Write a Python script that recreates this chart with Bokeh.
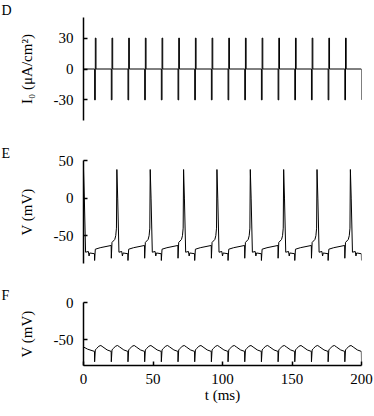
from bokeh.plotting import figure
from bokeh.models import Range1d, FixedTicker, Title
from bokeh.layouts import column
from bokeh.embed import file_html
from bokeh.resources import INLINE

# ---------------- data ----------------
t_end = 200
# panel D: biphasic stimulus pulses (negative phase first, then positive)
pulse_onsets = [8, 20, 32, 44, 56, 68, 80, 92, 104, 116, 128, 140, 152, 164, 176, 188, 200]
pulse_amp = 30
pulse_phase = 0.5

# panel E: firing every second pulse
spike_times = [0, 24, 48, 72, 96, 120, 144, 168, 192]
e_cycle_dt = [0, 0.6, 1.5, 3.5, 4.0, 4.5, 7.9, 8.0, 8.5, 12, 19.9, 20.0, 20.5, 22.5, 23.2, 23.7]
e_cycle_v = [38, 0, -72, -71, -77, -73, -74, -83, -68, -66, -63, -80, -59, -55, -50, -40]

# panel F: subthreshold response to every pulse
f_start_t = [0, 3]
f_start_v = [-60, -63]
f_cycle_dt = [-0.1, 0, 0.5, 1.5, 3, 4.5, 6, 9]
f_cycle_v = [-66, -80, -64, -62, -59, -58, -60, -64]

d_ticks = [-30, 0, 30]
e_ticks = [-50, 0, 50]
f_ticks = [-50, 0]
x_ticks = [0, 50, 100, 150, 200]

# ---------------- traces ----------------
d_t, d_v = [0], [0]
for tp in pulse_onsets:
    if tp < t_end:
        d_t += [tp, tp, tp + pulse_phase, tp + pulse_phase, tp + 2 * pulse_phase, tp + 2 * pulse_phase]
        d_v += [0, -pulse_amp, -pulse_amp, pulse_amp, pulse_amp, 0]
    else:
        d_t += [tp, tp]
        d_v += [0, -pulse_amp]

e_t, e_v = [], []
for ts in spike_times:
    for dt, v in zip(e_cycle_dt, e_cycle_v):
        if ts + dt <= t_end:
            e_t.append(ts + dt)
            e_v.append(v)

f_t, f_v = list(f_start_t), list(f_start_v)
for tp in pulse_onsets:
    for dt, v in zip(f_cycle_dt, f_cycle_v):
        if tp + dt <= t_end:
            f_t.append(tp + dt)
            f_v.append(v)

FONT = "Liberation Serif"


def make_fig(height, top, bottom, yr, ticks, ylabel, letter, show_x=False):
    p = figure(width=374, height=height, x_range=Range1d(0, t_end), y_range=Range1d(*yr),
               output_backend="svg", toolbar_location=None,
               min_border_left=83, min_border_right=13,
               min_border_top=top, min_border_bottom=bottom)
    p.outline_line_color = None
    p.grid.visible = False
    p.background_fill_color = "white"
    p.border_fill_color = "white"
    for ax in (p.yaxis[0], p.xaxis[0]):
        ax.axis_line_color = "black"
        ax.axis_line_width = 1.5
        ax.major_tick_line_color = "black"
        ax.major_tick_line_width = 1.5
        ax.major_tick_in = 4
        ax.major_tick_out = 0
        ax.minor_tick_line_color = None
        ax.major_label_text_font = FONT
        ax.major_label_text_font_size = "15px"
        ax.major_label_text_color = "black"
        ax.axis_label_text_font = FONT
        ax.axis_label_text_font_size = "15px"
        ax.axis_label_text_font_style = "normal"
        ax.axis_label_text_color = "black"
    ya = p.yaxis[0]
    ya.ticker = FixedTicker(ticks=ticks)
    ya.major_label_overrides = {t: str(t) for t in ticks}
    ya.major_label_standoff = 10
    ya.axis_label = ylabel
    ya.axis_label_standoff = 16
    xa = p.xaxis[0]
    if show_x:
        xa.ticker = FixedTicker(ticks=x_ticks)
        xa.major_label_standoff = 8
        xa.axis_label = "t (ms)"
        xa.axis_label_standoff = 0
    else:
        xa.visible = False
    p.add_layout(Title(text=letter, align="left", offset=-82, standoff=0,
                       vertical_align="bottom", text_font=FONT, text_font_size="14px",
                       text_font_style="normal", text_color="black"), "above")
    return p


pD = make_fig(140, 16, 20, (-50, 50), d_ticks, "I\u2080 (\u03bcA/cm\u00b2)", "D")
pD.line(d_t, d_v, line_color="black", line_width=1)

pE = make_fig(145, 20, 22, (-87, 50), e_ticks, "V (mV)", "E")
pE.line(e_t, e_v, line_color="black", line_width=1)

pF = make_fig(123, 17, 43, (-85, 0), f_ticks, "V (mV)", "F", show_x=True)
pF.line(f_t, f_v, line_color="black", line_width=1)

layout = column(pD, pE, pF)

with open("out.html", "w") as fh:
    fh.write(file_html(layout, INLINE))
